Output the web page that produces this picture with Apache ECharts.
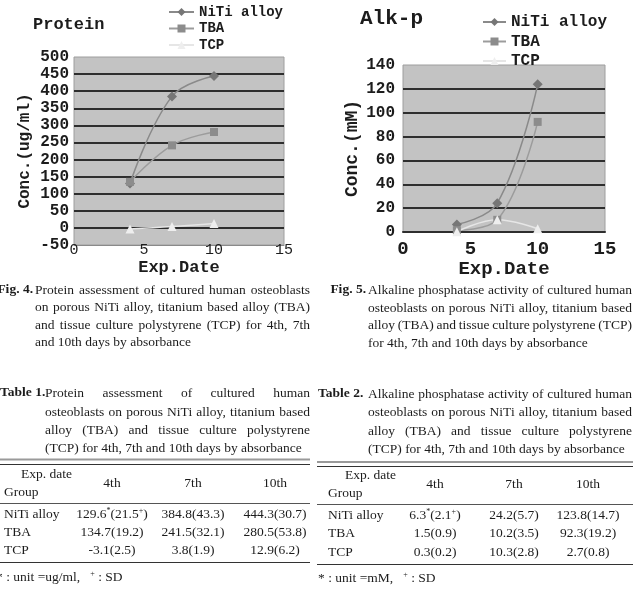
<!DOCTYPE html>
<html>
<head>
<meta charset="utf-8">
<script src="https://cdn.jsdelivr.net/npm/echarts@6/dist/echarts.min.js"></script>
<style>
  html, body { margin: 0; padding: 0; background: #fff; }
  #chart { width: 633px; height: 606px; }
</style>
</head>
<body>
<div id="chart"></div>
<script>
// experiment days and groups
const expDays = [4, 7, 10];
const dayLabels = ["4th", "7th", "10th"];
const groups = ["NiTi alloy", "TBA", "TCP"];

// protein (ug/ml) means and SD
const proteinNiTi = [129.6, 384.8, 444.3];
const proteinTBA = [134.7, 241.5, 280.5];
const proteinTCP = [-3.1, 3.8, 12.9];
const proteinNiTiSD = [21.5, 43.3, 30.7];
const proteinTBASD = [19.2, 32.1, 53.8];
const proteinTCPSD = [2.5, 1.9, 6.2];

// alkaline phosphatase (mM) means and SD
const alkNiTi = [6.3, 24.2, 123.8];
const alkTBA = [1.5, 10.2, 92.3];
const alkTCP = [0.3, 10.3, 2.7];
const alkNiTiSD = [2.1, 5.7, 14.7];
const alkTBASD = [0.9, 3.5, 19.2];
const alkTCPSD = [0.2, 2.8, 0.8];

// caption texts
const fig4Lines = [
  "Protein assessment of cultured human osteoblasts",
  "on porous NiTi alloy, titanium based alloy (TBA)",
  "and tissue culture polystyrene (TCP) for 4th, 7th",
  "and 10th days by absorbance",
];
const fig5Lines = [
  "Alkaline phosphatase activity of cultured human",
  "osteoblasts on porous NiTi alloy, titanium based",
  "alloy (TBA) and tissue culture polystyrene (TCP)",
  "for 4th, 7th and 10th days by absorbance",
];
const table1Lines = [
  "Protein assessment of cultured human",
  "osteoblasts on porous NiTi alloy, titanium based",
  "alloy (TBA) and tissue culture polystyrene",
  "(TCP) for 4th, 7th and 10th days by absorbance",
];
const table2Lines = [
  "Alkaline phosphatase activity of cultured human",
  "osteoblasts on porous NiTi alloy, titanium based",
  "alloy (TBA) and tissue culture polystyrene",
  "(TCP) for 4th, 7th and 10th days by absorbance",
];

const MONO = "'Liberation Mono', 'DejaVu Sans Mono', monospace";
const SERIF = "'Liberation Serif', 'DejaVu Serif', serif";
const INK = "#1c1c1c";
const PLOT_BG = "#c3c3c3";
const GRID_DARK = "#2e2e2e";

const measureCtx = document.createElement("canvas").getContext("2d");
function textWidth(str, size, weight) {
  measureCtx.font = `${weight || "normal"} ${size}px ${SERIF}`;
  return measureCtx.measureText(str).width;
}

function txt(text, x, y, opts) {
  opts = opts || {};
  return {
    type: "text",
    x: x,
    y: y,
    style: {
      text: text,
      fontFamily: SERIF,
      fontSize: opts.size || 13.5,
      fontWeight: opts.weight || "normal",
      fill: INK,
      align: opts.align || "left",
      verticalAlign: "middle",
      rich: opts.rich,
    },
  };
}

// justified paragraph (last line left aligned)
function paragraph(lines, x, ys, right, size) {
  const els = [];
  lines.forEach((line, i) => {
    const words = line.split(" ");
    if (i === lines.length - 1 || words.length < 2) {
      els.push(txt(line, x, ys[i], { size }));
      return;
    }
    const ws = words.map((w) => textWidth(w, size));
    const total = ws.reduce((a, b) => a + b, 0);
    const gap = Math.max(2, (right - x - total) / (words.length - 1));
    let cx = x;
    words.forEach((w, k) => {
      els.push(txt(w, cx, ys[i], { size }));
      cx += ws[k] + gap;
    });
  });
  return els;
}

const supRich = { s: { fontSize: 8, fontFamily: SERIF, verticalAlign: "top", fill: INK } };

function cell(mean, sd, marked) {
  if (marked) return `${mean.toFixed(1)}{s|*}(${sd.toFixed(1)}{s|+})`;
  return `${mean.toFixed(1)}(${sd.toFixed(1)})`;
}

function hline(x1, x2, y, color, width) {
  return {
    type: "line",
    shape: { x1, y1: y, x2, y2: y },
    style: { stroke: color, lineWidth: width },
  };
}

function table(t) {
  const els = [];
  els.push(hline(t.x1, t.x2, t.rules[0], "#9a9a9a", 2));
  els.push(hline(t.x1, t.x2, t.rules[1], "#333", 1));
  els.push(hline(t.x1, t.x2, t.rules[2], "#555", 1));
  els.push(hline(t.x1, t.x2, t.rules[3], "#333", 1));
  els.push(txt("Exp. date", t.expX, t.expY));
  els.push(txt("Group", t.groupX, t.groupY));
  dayLabels.forEach((d, j) => els.push(txt(d, t.cols[j], t.headY, { align: "center" })));
  groups.forEach((g, i) => {
    els.push(txt(g, t.groupX, t.rowY[i]));
    t.means[i].forEach((m, j) => {
      els.push(txt(cell(m, t.sds[i][j], i === 0 && j === 0), t.cols[j], t.rowY[i], {
        align: "center",
        rich: supRich,
      }));
    });
  });
  els.push(txt(t.foot, t.footX, t.footY, { rich: supRich }));
  return els;
}

const graphicEls = [].concat(
  [txt("Fig. 4.", 33, 290, { weight: "bold", align: "right" })],
  paragraph(fig4Lines, 35, [290, 307, 325, 342], 310, 13.5),
  [txt("Fig. 5.", 366, 290, { weight: "bold", align: "right" })],
  paragraph(fig5Lines, 368, [290, 308, 325, 343], 632, 13.5),
  [txt("Table 1.", 0, 393, { weight: "bold" })],
  paragraph(table1Lines, 45, [393, 412, 430, 448], 310, 13.5),
  [txt("Table 2.", 318, 394, { weight: "bold" })],
  paragraph(table2Lines, 368, [394, 412, 431, 449], 632, 13.5),
  table({
    x1: 0, x2: 310, rules: [459.5, 464.5, 503.5, 562.5],
    expX: 21, expY: 474, groupX: 4, groupY: 492, headY: 483,
    cols: [112, 193, 275], rowY: [514, 532, 550],
    means: [proteinNiTi, proteinTBA, proteinTCP],
    sds: [proteinNiTiSD, proteinTBASD, proteinTCPSD],
    foot: "* : unit =ug/ml,   {s|+} : SD", footX: -4, footY: 577,
  }),
  table({
    x1: 317, x2: 633, rules: [462, 466.5, 504.5, 564.5],
    expX: 345, expY: 475, groupX: 328, groupY: 493, headY: 484,
    cols: [435, 514, 588], rowY: [515, 533, 552],
    means: [alkNiTi, alkTBA, alkTCP],
    sds: [alkNiTiSD, alkTBASD, alkTCPSD],
    foot: "* : unit =mM,   {s|+} : SD", footX: 318, footY: 578,
  })
);

const seriesStyle = {
  "NiTi alloy": { symbol: "diamond", size: 10, line: "#8a8a8a", mark: "#767676" },
  TBA: { symbol: "rect", size: 8, line: "#9c9c9c", mark: "#8c8c8c" },
  TCP: { symbol: "triangle", size: 9, line: "#e6e6e6", mark: "#eeeeee" },
};

function makeSeries(name, values, axisIdx) {
  const s = seriesStyle[name];
  return {
    name: name,
    type: "line",
    xAxisIndex: axisIdx,
    yAxisIndex: axisIdx,
    smooth: 0.4,
    symbol: s.symbol,
    symbolSize: s.size,
    data: expDays.map((d, i) => [d, values[i]]),
    lineStyle: { color: s.line, width: 1.5 },
    itemStyle: { color: s.mark },
    emphasis: { disabled: true },
  };
}

function splitColors(n, hideFirst) {
  const arr = [];
  for (let i = 0; i < n; i++) arr.push(GRID_DARK);
  arr[n - 1] = "transparent";
  if (hideFirst) arr[0] = "transparent";
  return arr;
}

const option = {
  animation: false,
  backgroundColor: "#fff",
  title: [
    { text: "Protein", left: 33, top: 16, padding: 0,
      textStyle: { fontFamily: MONO, fontSize: 17, fontWeight: "bold", color: INK } },
    { text: "Alk-p", left: 360, top: 8, padding: 0,
      textStyle: { fontFamily: MONO, fontSize: 21, fontWeight: "bold", color: INK } },
  ],
  legend: [
    { data: groups, orient: "vertical", left: 168, top: 5, padding: 0,
      itemWidth: 25, itemHeight: 10, itemGap: 2.5,
      textStyle: { fontFamily: MONO, fontSize: 14, fontWeight: "bold", color: INK, lineHeight: 14 } },
    { data: groups, orient: "vertical", left: 482, top: 14, padding: 0,
      itemWidth: 23, itemHeight: 10, itemGap: 3.5,
      textStyle: { fontFamily: MONO, fontSize: 16, fontWeight: "bold", color: INK, lineHeight: 15 } },
  ],
  grid: [
    { left: 74, top: 57, width: 210, height: 188, show: true,
      backgroundColor: PLOT_BG, borderColor: "#9e9e9e", borderWidth: 1 },
    { left: 403, top: 65, width: 202, height: 167, show: true,
      backgroundColor: PLOT_BG, borderColor: "#9e9e9e", borderWidth: 1 },
  ],
  xAxis: [
    { type: "value", gridIndex: 0, min: 0, max: 15, interval: 5,
      name: "Exp.Date", nameLocation: "middle", nameGap: 10,
      nameTextStyle: { fontFamily: MONO, fontSize: 17, fontWeight: "bold", color: INK },
      axisLine: { onZero: false, lineStyle: { color: "#8a8a8a" } },
      axisTick: { show: false }, splitLine: { show: false },
      axisLabel: { margin: -2, fontFamily: MONO, fontSize: 15, color: INK } },
    { type: "value", gridIndex: 1, min: 0, max: 15, interval: 5,
      name: "Exp.Date", nameLocation: "middle", nameGap: 21,
      nameTextStyle: { fontFamily: MONO, fontSize: 19, fontWeight: "bold", color: INK },
      axisLine: { onZero: false, lineStyle: { color: GRID_DARK, width: 2 } },
      axisTick: { show: false }, splitLine: { show: false },
      axisLabel: { margin: 8, fontFamily: MONO, fontSize: 19, fontWeight: "bold", color: INK } },
  ],
  yAxis: [
    { type: "value", gridIndex: 0, min: -50, max: 500, interval: 50,
      name: "Conc.(ug/ml)", nameLocation: "middle", nameGap: 41,
      nameTextStyle: { fontFamily: MONO, fontSize: 16, fontWeight: "bold", color: INK },
      axisLine: { show: false }, axisTick: { show: false },
      axisLabel: { margin: 5, fontFamily: MONO, fontSize: 16, fontWeight: "bold", color: INK },
      splitLine: { lineStyle: { color: splitColors(12, true), width: 2 } } },
    { type: "value", gridIndex: 1, min: 0, max: 140, interval: 20,
      name: "Conc.(mM)", nameLocation: "middle", nameGap: 42,
      nameTextStyle: { fontFamily: MONO, fontSize: 18, fontWeight: "bold", color: INK },
      axisLine: { show: false }, axisTick: { show: false },
      axisLabel: { margin: 8, fontFamily: MONO, fontSize: 16, fontWeight: "bold", color: INK },
      splitLine: { lineStyle: { color: splitColors(8, false), width: 2 } } },
  ],
  series: [
    makeSeries("NiTi alloy", proteinNiTi, 0),
    makeSeries("TBA", proteinTBA, 0),
    makeSeries("TCP", proteinTCP, 0),
    makeSeries("NiTi alloy", alkNiTi, 1),
    makeSeries("TBA", alkTBA, 1),
    makeSeries("TCP", alkTCP, 1),
  ],
  graphic: { elements: graphicEls },
};

const chart = echarts.init(document.getElementById("chart"), null, { renderer: "canvas" });
chart.setOption(option);
</script>
</body>
</html>
